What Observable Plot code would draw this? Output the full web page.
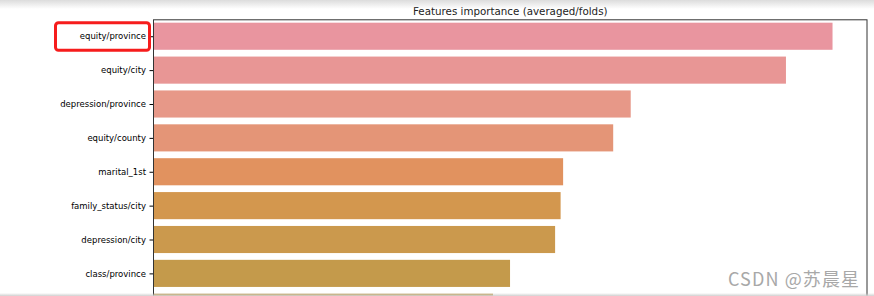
<!DOCTYPE html>
<html>
<head>
<meta charset="utf-8">
<script src="https://cdn.jsdelivr.net/npm/d3@7"></script>
<script src="https://cdn.jsdelivr.net/npm/@observablehq/plot@0.6"></script>
<style>
  html, body { margin: 0; padding: 0; background: #fff; width: 874px; height: 296px; overflow: hidden; }
  #wrap { position: relative; width: 874px; height: 296px; overflow: hidden; }
  #topshade { position: absolute; left: 0; top: 0; width: 874px; height: 9px;
    background: linear-gradient(to bottom, #dcdcdc, rgba(255,255,255,0)); pointer-events: none; }
  #botshade { position: absolute; left: 0; top: 293px; width: 874px; height: 3px;
    background: linear-gradient(to bottom, rgba(255,255,255,0), #d0d0d0); pointer-events: none; }
  #wm { position: absolute; left: 728px; top: 265px; font-family: "Noto Sans CJK SC", sans-serif;
    font-size: 18px; color: #a8a8a8; letter-spacing: 1.1px; white-space: nowrap; }
</style>
</head>
<body>
<div id="wrap">
  <div id="chart"></div>
  <div id="topshade"></div>
  <div id="botshade"></div>
  <div id="wm">CSDN @苏晨星</div>
</div>
<script>
const features = ["equity/province", "equity/city", "depression/province", "equity/county",
  "marital_1st", "family_status/city", "depression/city", "class/province", "class/city"];
const importance = [1357, 1264, 954, 919, 819, 814, 803, 713, 679];
const barColors = ["#e9959f", "#e89695", "#e79888", "#e49577", "#e1925f",
  "#d3974e", "#cb994d", "#c49a4b", "#c09c4c"];
const titleText = "Features importance (averaged/folds)";
const highlighted = "equity/province";

const data = features.map((f, i) => ({feature: f, value: importance[i], color: barColors[i]}));

const plot = Plot.plot({
  width: 874,
  height: 345,
  marginLeft: 153,
  marginRight: 7.5,
  marginTop: 19.3,
  marginBottom: 20.8,
  style: {fontFamily: "DejaVu Sans", fontSize: "8.5px", background: "white", overflow: "visible"},
  x: {domain: [0, d3.max(importance) * 1.05], axis: null},
  y: {domain: features, paddingInner: 0.2, paddingOuter: 0.1, align: 0.5, round: false, label: null,
      tickSize: 3.5, tickPadding: 4},
  color: {type: "identity"},
  marks: [
    Plot.barX(data, {x: "value", y: "feature", fill: "color"}),
    Plot.frame({stroke: "#333", strokeWidth: 1}),
    Plot.text([titleText], {frameAnchor: "top", dy: -4.5, lineAnchor: "bottom",
      fontSize: 10.3, fill: "#222"})
  ]
});

document.getElementById("chart").appendChild(plot);

// red highlight box around the first label
const ys = plot.scale("y");
const yb = ys.apply(highlighted);
const bw = ys.bandwidth;
d3.select(plot).append("rect")
  .attr("x", 153 - 97.5)
  .attr("y", yb + 0.1)
  .attr("width", 94)
  .attr("height", bw + 0.4)
  .attr("rx", 3)
  .attr("fill", "none")
  .attr("stroke", "#f61c1c")
  .attr("stroke-width", 3);
</script>
</body>
</html>
